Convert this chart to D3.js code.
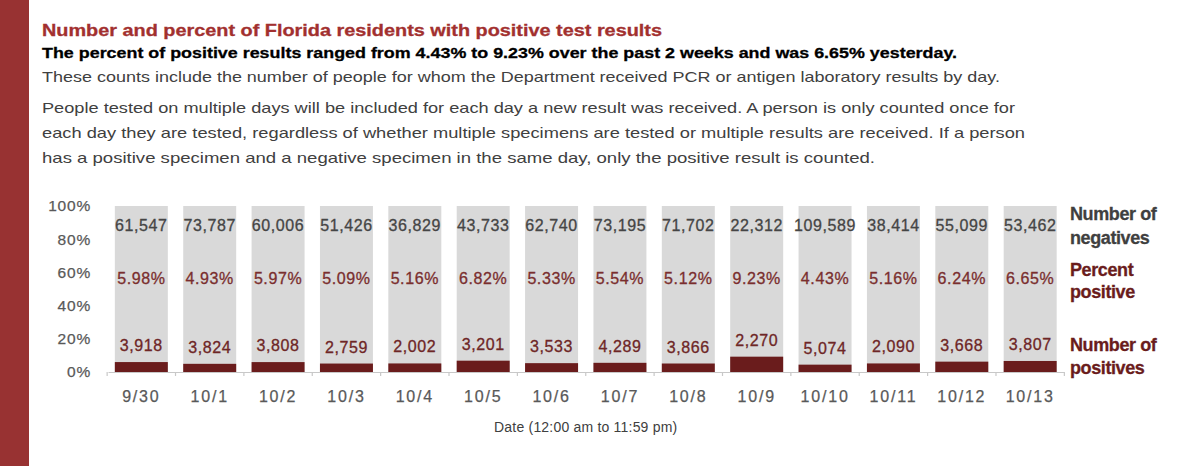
<!DOCTYPE html>
<html>
<head>
<meta charset="utf-8">
<script src="https://cdn.jsdelivr.net/npm/d3@7"></script>
<style>
  html, body { margin: 0; padding: 0; background: #fff; }
  svg { display: block; font-family: "Liberation Sans", Arial, sans-serif; }
</style>
</head>
<body>
<div id="chart"></div>
<script>
// values
const dates = ['9/30', '10/1', '10/2', '10/3', '10/4', '10/5', '10/6', '10/7', '10/8', '10/9', '10/10', '10/11', '10/12', '10/13'];
const negatives = [61547, 73787, 60006, 51426, 36829, 43733, 62740, 73195, 71702, 22312, 109589, 38414, 55099, 53462];
const positives = [3918, 3824, 3808, 2759, 2002, 3201, 3533, 4289, 3866, 2270, 5074, 2090, 3668, 3807];
const yTicks = [0, 0.2, 0.4, 0.6, 0.8, 1];

const title = 'Number and percent of Florida residents with positive test results';
const subtitle = 'The percent of positive results ranged from 4.43% to 9.23% over the past 2 weeks and was 6.65% yesterday.';
const notes = [
  'These counts include the number of people for whom the Department received PCR or antigen laboratory results by day.',
  'People tested on multiple days will be included for each day a new result was received. A person is only counted once for',
  'each day they are tested, regardless of whether multiple specimens are tested or multiple results are received. If a person',
  'has a positive specimen and a negative specimen in the same day, only the positive result is counted.'
];

const width = 1200, height = 466;
const fmtNum = d3.format(',');
const fmtPct = d3.format('.2%');

const svg = d3.select('#chart').append('svg')
  .attr('width', width)
  .attr('height', height);

// red band on the left
svg.append('rect')
  .attr('x', 0).attr('y', 0)
  .attr('width', 29).attr('height', height)
  .attr('fill', '#983232');

// header texts
svg.append('text')
  .attr('x', 42).attr('y', 36)
  .attr('textLength', 620).attr('lengthAdjust', 'spacingAndGlyphs')
  .attr('font-size', 17).attr('font-weight', 'bold')
  .attr('fill', '#a2302f')
  .attr('stroke', '#a2302f').attr('stroke-width', 0.3)
  .text(title);

svg.append('text')
  .attr('x', 42).attr('y', 58)
  .attr('textLength', 915).attr('lengthAdjust', 'spacingAndGlyphs')
  .attr('font-size', 15.5).attr('font-weight', 'bold')
  .attr('fill', '#000')
  .attr('stroke', '#000').attr('stroke-width', 0.3)
  .text(subtitle);

const noteY = [82, 113, 138, 163];
const noteW = [958, 973, 983, 833];
svg.selectAll('text.note')
  .data(notes)
  .enter()
  .append('text')
  .attr('class', 'note')
  .attr('x', 42)
  .attr('y', (d, i) => noteY[i])
  .attr('textLength', (d, i) => noteW[i])
  .attr('lengthAdjust', 'spacingAndGlyphs')
  .attr('font-size', 15)
  .attr('fill', '#404040')
  .text(d => d);

// scales
const xScale = d3.scaleBand()
  .domain(dates)
  .range([108, 1063.5])
  .paddingInner(0.225)
  .paddingOuter(0.1);

const yScale = d3.scaleLinear()
  .domain([0, 1])
  .range([372, 206]);

const share = positives.map((p, i) => p / (p + negatives[i]));

// y axis: labels only
const yAxis = d3.axisLeft(yScale)
  .tickValues(yTicks)
  .tickFormat(d3.format('.0%'))
  .tickSize(0)
  .tickPadding(0);

svg.append('g')
  .attr('transform', 'translate(91, 0)')
  .call(yAxis)
  .call(g => g.select('.domain').remove())
  .call(g => g.selectAll('text')
    .attr('font-size', 15.5)
    .attr('font-family', '"Liberation Sans", Arial, sans-serif')
    .attr('fill', '#595959')
    .attr('stroke', '#595959').attr('stroke-width', 0.25)
    .attr('letter-spacing', 0.8));

// bars: gray full height, dark red positive share
svg.selectAll('rect.total')
  .data(dates)
  .enter()
  .append('rect')
  .attr('class', 'total')
  .attr('x', d => xScale(d))
  .attr('y', yScale(1))
  .attr('width', xScale.bandwidth())
  .attr('height', yScale(0) - yScale(1))
  .attr('fill', '#d9d9d9');

svg.selectAll('rect.pos')
  .data(share)
  .enter()
  .append('rect')
  .attr('class', 'pos')
  .attr('x', (d, i) => xScale(dates[i]))
  .attr('y', d => yScale(d))
  .attr('width', xScale.bandwidth())
  .attr('height', d => yScale(0) - yScale(d))
  .attr('fill', '#6a1c1c');

// x axis
const xAxis = d3.axisBottom(xScale)
  .tickSize(0)
  .tickPadding(0)
  .tickSizeOuter(0);

const xg = svg.append('g')
  .attr('transform', `translate(0, ${yScale(0)})`)
  .call(xAxis);

xg.select('.domain')
  .attr('stroke', '#c8c8c8')
  .attr('stroke-width', 1.2);

xg.selectAll('text')
  .attr('y', 30)
  .attr('dy', 0)
  .attr('font-size', 16)
  .attr('font-family', '"Liberation Sans", Arial, sans-serif')
  .attr('fill', '#595959')
  .attr('stroke', '#595959').attr('stroke-width', 0.25)
  .attr('letter-spacing', 1.8);

// tick marks between categories
const step = xScale.step();
const bounds = dates.map(d => xScale(d) - step * xScale.paddingInner() / 2);
bounds.push(xScale(dates[dates.length - 1]) + xScale.bandwidth() + step * xScale.paddingInner() / 2);
xg.selectAll('line.sep')
  .data(bounds)
  .enter()
  .append('line')
  .attr('class', 'sep')
  .attr('x1', d => d).attr('x2', d => d)
  .attr('y1', 0).attr('y2', 4)
  .attr('stroke', '#c8c8c8')
  .attr('stroke-width', 1.2);

svg.append('text')
  .attr('x', (xScale.range()[0] + xScale.range()[1]) / 2)
  .attr('y', 432)
  .attr('text-anchor', 'middle')
  .attr('font-size', 14)
  .attr('letter-spacing', 0.2)
  .attr('fill', '#404040')
  .text('Date (12:00 am to 11:59 pm)');

// value labels
const cx = d => xScale(d) + xScale.bandwidth() / 2;

svg.selectAll('text.neg')
  .data(negatives)
  .enter()
  .append('text')
  .attr('class', 'neg')
  .attr('x', (d, i) => cx(dates[i]))
  .attr('y', 231)
  .attr('text-anchor', 'middle')
  .attr('font-size', 16)
  .attr('letter-spacing', 0.6)
  .attr('fill', '#454545')
  .attr('stroke', '#454545').attr('stroke-width', 0.3)
  .text(d => fmtNum(d));

svg.selectAll('text.pct')
  .data(share)
  .enter()
  .append('text')
  .attr('class', 'pct')
  .attr('x', (d, i) => cx(dates[i]))
  .attr('y', 284)
  .attr('text-anchor', 'middle')
  .attr('font-size', 16)
  .attr('letter-spacing', 0.6)
  .attr('fill', '#7a2e2e')
  .attr('stroke', '#7a2e2e').attr('stroke-width', 0.3)
  .text(d => fmtPct(d));

svg.selectAll('text.posl')
  .data(positives)
  .enter()
  .append('text')
  .attr('class', 'posl')
  .attr('x', (d, i) => cx(dates[i]))
  .attr('y', (d, i) => yScale(share[i]) - 11)
  .attr('text-anchor', 'middle')
  .attr('font-size', 16)
  .attr('letter-spacing', 0.6)
  .attr('fill', '#6e2626')
  .attr('stroke', '#6e2626').attr('stroke-width', 0.3)
  .text(d => fmtNum(d));

// series labels on the right
const legend = [
  { lines: ['Number of', 'negatives'], y: [220, 244], color: '#3f3f3f' },
  { lines: ['Percent', 'positive'], y: [276, 298], color: '#6a1c1c' },
  { lines: ['Number of', 'positives'], y: [351, 374], color: '#6a1c1c' }
];
legend.forEach(item => {
  item.lines.forEach((line, i) => {
    svg.append('text')
      .attr('x', 1070)
      .attr('y', item.y[i])
      .attr('font-size', 18)
      .attr('font-weight', 'bold')
      .attr('letter-spacing', -0.4)
      .attr('fill', item.color)
      .attr('stroke', item.color).attr('stroke-width', 0.3)
      .text(line);
  });
});
</script>
</body>
</html>
